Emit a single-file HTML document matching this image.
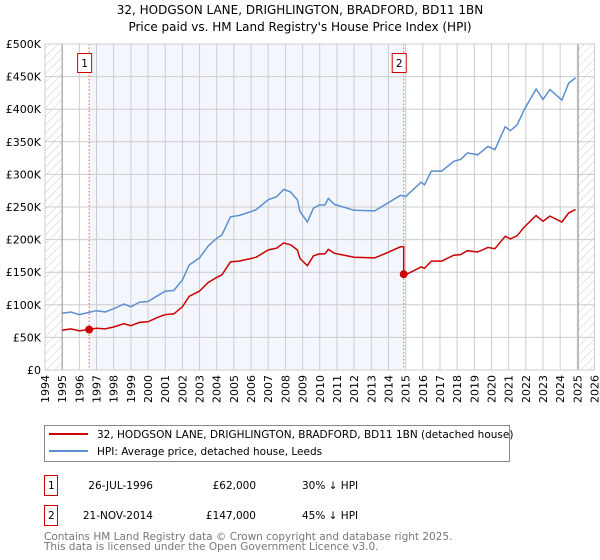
<!DOCTYPE html>
<html><head><meta charset="utf-8"><style>
body{margin:0;background:#fff}
svg{display:block;font-family:"DejaVu Sans","Liberation Sans",sans-serif}
</style></head><body>
<svg id="c" width="600" height="560" viewBox="0 0 600 560">
<defs><pattern id="hatch" width="6" height="6" patternUnits="userSpaceOnUse" patternTransform="rotate(45)"><line x1="0" y1="0" x2="0" y2="6" stroke="#ccc" stroke-width="1"/></pattern></defs>
<text x="300" y="14" text-anchor="middle" font-size="12">32, HODGSON LANE, DRIGHLINGTON, BRADFORD, BD11 1BN</text>
<text x="300" y="31" text-anchor="middle" font-size="12">Price paid vs. HM Land Registry's House Price Index (HPI)</text>
<g id="plot"></g>
<g>
<rect x="44.5" y="425.5" width="465" height="36" fill="#fff" stroke="#888"/>
<line x1="49" y1="434" x2="88" y2="434" stroke="#cc0000" stroke-width="2"/>
<text x="97" y="438" font-size="10.5">32, HODGSON LANE, DRIGHLINGTON, BRADFORD, BD11 1BN (detached house)</text>
<line x1="49" y1="451" x2="88" y2="451" stroke="#5b8fd0" stroke-width="2"/>
<text x="97" y="455" font-size="10.5">HPI: Average price, detached house, Leeds</text>
</g>
<g font-size="10.5">
<rect x="44.5" y="475.5" width="13" height="20" fill="none" stroke="#cc0000"/>
<text x="48" y="489">1</text><text x="153" y="489" text-anchor="end">26-JUL-1996</text><text x="256" y="489" text-anchor="end">£62,000</text><text x="302" y="489">30% ↓ HPI</text>
<rect x="44.5" y="505.5" width="13" height="20" fill="none" stroke="#cc0000"/>
<text x="48" y="519">2</text><text x="153" y="519" text-anchor="end">21-NOV-2014</text><text x="256" y="519" text-anchor="end">£147,000</text><text x="302" y="519">45% ↓ HPI</text>
</g>
<text x="44" y="540" font-size="10.5" fill="#777">Contains HM Land Registry data © Crown copyright and database right 2025.</text>
<text x="44" y="550" font-size="10.5" fill="#777">This data is licensed under the Open Government Licence v3.0.</text>
</svg>
<script>
const hpiYears=[1995,1995.5,1996,1996.5,1997,1997.5,1998,1998.6,1999,1999.5,2000,2000.5,2001,2001.5,2002,2002.4,2003,2003.5,2004,2004.3,2004.8,2005.3,2006,2006.3,2007,2007.5,2007.9,2008.3,2008.7,2008.85,2009.28,2009.63,2009.97,2010.3,2010.5,2010.86,2012,2013.2,2013.95,2014.7,2015,2015.9,2016.1,2016.5,2017.1,2017.8,2018.2,2018.6,2019.2,2019.8,2020.2,2020.8,2021.1,2021.5,2021.9,2022.6,2023,2023.4,2024.1,2024.5,2024.9];
const hpiValues=[87,89,85,88,91,89,94,101,97,104,105,113,121,122,138,161,172,190,202,207,235,237,243,246,261,266,277,273,261,243,227,248,253,253,263,254,245,244,256,268,266,288,284,305,305,320,323,333,330,343,338,373,367,376,399,431,415,430,414,440,448];
const priceValues=[61,63,60,62,64,63,66,71,68,73,74,80,85,86,97,113,121,134,142,146,166,167,171,173,184,187,195,192,184,171,160,175,178,178,185,179,173,172,180,189,146,158,156,167,167,176,177,183,181,188,186,205,201,206,219,237,228,236,227,241,246];
const sales=[{t:1996.57,v:62,label:"1"},{t:2014.89,v:147,label:"2"}];
const yTicks=[0,50,100,150,200,250,300,350,400,450,500];
const yTickLabels=["£0","£50K","£100K","£150K","£200K","£250K","£300K","£350K","£400K","£450K","£500K"];
const xTicks=[1994,1995,1996,1997,1998,1999,2000,2001,2002,2003,2004,2005,2006,2007,2008,2009,2010,2011,2012,2013,2014,2015,2016,2017,2018,2019,2020,2021,2022,2023,2024,2025,2026];

const X0=45,X1=594.5,Y0=370,Y1=44;
const xs=t=>X0+(t-1994)/(2026-1994)*(X1-X0);
const ys=v=>Y0-(v/500)*(Y0-Y1);
const NS="http://www.w3.org/2000/svg";
const g=document.getElementById('plot');
function mk(tag,attrs,parent){const e=document.createElementNS(NS,tag);for(const k in attrs)e.setAttribute(k,attrs[k]);(parent||g).appendChild(e);return e;}

let r=mk('rect',{x:xs(sales[0].t),y:Y1,width:xs(sales[1].t)-xs(sales[0].t),height:Y0-Y1,fill:'#eef3fc',opacity:0.7});


r=mk('rect',{x:X0,y:Y1,width:xs(1995)-X0,height:Y0-Y1,fill:'url(#hatch)'});


r=mk('rect',{x:xs(2025.05),y:Y1,width:X1-xs(2025.05),height:Y0-Y1,fill:'url(#hatch)'});



xTicks.forEach(t=>{
  const l=mk('line',{x1:xs(t),x2:xs(t),y1:Y1,y2:Y0,stroke:'#ccc','stroke-width':1});
  
  
  const tx=mk('text',{x:0,y:0,'font-size':11,'text-anchor':'end',transform:`translate(${xs(t)+4},${Y0+5}) rotate(-90)`});
  tx.textContent=t;
  
  
});
yTicks.forEach((v,i)=>{
  const l=mk('line',{x1:X0,x2:X1,y1:ys(v),y2:ys(v),stroke:'#ccc','stroke-width':1});
  
  
  const tx=mk('text',{x:X0-4,y:ys(v)+4,'font-size':11,'text-anchor':'end'});
  tx.textContent=yTickLabels[i];
  
  
});
[1995,2025.05].forEach(t=>{const l=mk('line',{x1:xs(t),x2:xs(t),y1:Y1,y2:Y0,stroke:'#999','stroke-width':1});

});

sales.forEach(s=>{
  const l=mk('line',{x1:xs(s.t),x2:xs(s.t),y1:Y1,y2:Y0,stroke:'#f06060','stroke-width':1,'stroke-dasharray':'1.5,2'});
  
  
});

let d='';hpiYears.forEach((t,i)=>{d+=(i?'L':'M')+xs(t).toFixed(1)+','+ys(hpiValues[i]).toFixed(1);});
let p=mk('path',{d,fill:'none',stroke:'#5b8fd0','stroke-width':1.5});


d='';hpiYears.forEach((t,i)=>{
  if(i>0&&hpiYears[i-1]<sales[1].t&&t>=sales[1].t){d+='L'+xs(sales[1].t).toFixed(1)+','+ys(189).toFixed(1)+'L'+xs(sales[1].t).toFixed(1)+','+ys(sales[1].v).toFixed(1);}
  d+=(i?'L':'M')+xs(t).toFixed(1)+','+ys(priceValues[i]).toFixed(1);});
p=mk('path',{d,fill:'none',stroke:'#cc0000','stroke-width':1.5});



sales.forEach(s=>{
  const c=mk('circle',{cx:xs(s.t),cy:ys(s.v),r:4,fill:'#cc0000'});
  
  
  const b=mk('rect',{x:xs(s.t)-11.5,y:53.5,width:14,height:19,fill:'#fff',stroke:'#cc0000'});
  
  
  const tx=mk('text',{x:xs(s.t)-4.5,y:67,'font-size':10.5,'text-anchor':'middle'});
  tx.textContent=s.label;
  
  
});
const fr=mk('rect',{x:X0,y:Y1,width:X1-X0,height:Y0-Y1,fill:'none',stroke:'#ccc'});


</script>
</body></html>
